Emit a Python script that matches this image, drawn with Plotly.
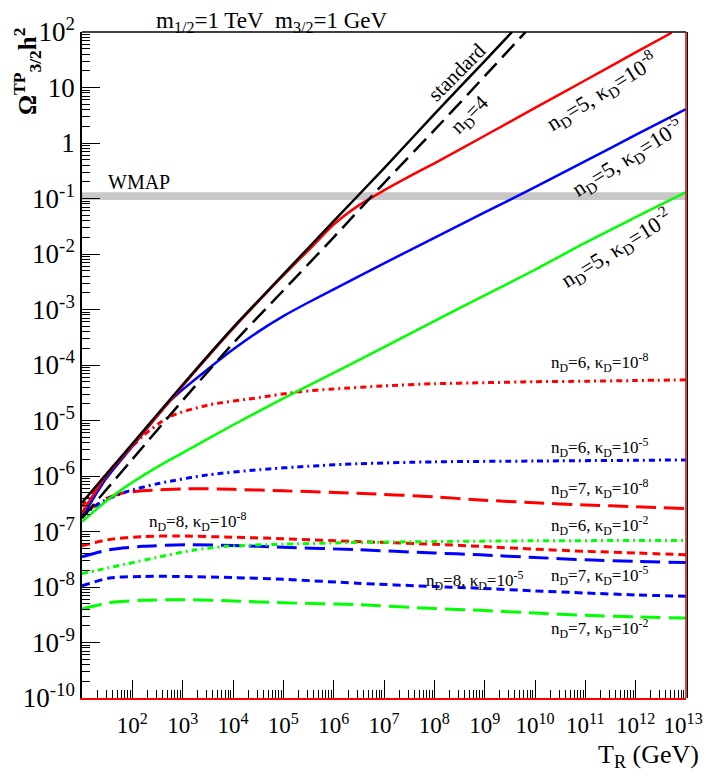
import plotly.graph_objects as go

# ---------------- data ----------------
# standard (black solid)
T_std = [1e1, 1e2, 1e3, 1e4, 1e5, 1e6, 1e7, 1e8, 1e9, 3.5e9]
O_std = [3.3e-7, 3.8e-6, 4.4e-5, 4.7e-4, 4.3e-3, 3.9e-2, 0.35, 3.3, 30, 100]

# n_D=4 (black long dash)
T_n4 = [1e1, 1e2, 1e3, 1e4, 1e5, 1e6, 1e7, 1e8, 1e9, 6.5e9]
O_n4 = [1.74e-7, 2.0e-6, 2.3e-5, 2.45e-4, 2.2e-3, 2.0e-2, 0.19, 1.7, 16, 100]

# n_D=5
T_n5k8 = [1e1, 3e1, 1e2, 1e3, 1e4, 1e5, 4e5, 1e6, 3.2e6, 1e7, 3.2e7, 1e8, 1e9, 1e10,
          1e11, 1e12, 5.2e12]
O_n5k8 = [2.2e-7, 1.0e-6, 3.5e-6, 4.2e-5, 4.5e-4, 4.1e-3, 1.45e-2, 3.4e-2, 7.6e-2, 0.14,
          0.25, 0.43, 1.35, 4.3, 13.5, 43, 97]
T_n5k5 = [1e1, 3e1, 1e2, 5.5e2, 1e3, 3.2e3, 1e4, 3.2e4, 1e5, 3.2e5, 1e6, 1e7, 1e8, 1e9,
          1e10, 1e11, 1e12, 1e13]
O_n5k5 = [1.8e-7, 8.9e-7, 3.4e-6, 2.2e-5, 3.6e-5, 8.5e-5, 1.9e-4, 4.0e-4, 7.6e-4, 1.35e-3,
          2.3e-3, 6.8e-3, 1.95e-2, 5.6e-2, 0.16, 0.47, 1.4, 4.1]
T_n5k2 = [1e1, 3e1, 7.6e1, 5.5e2, 1e3, 1e4, 1e5, 1e6, 1e7, 1e8, 1e9, 1e10, 1e11, 1e12, 1e13]
O_n5k2 = [1.5e-7, 3.5e-7, 6.5e-7, 1.95e-6, 2.6e-6, 8.3e-6, 2.5e-5, 7.2e-5, 2.1e-4, 6.2e-4,
          1.8e-3, 5.2e-3, 1.6e-2, 4.6e-2, 0.13]

# n_D=6 (dash-dot)
T_n6k8 = [1e1, 3e1, 6.6e1, 1.6e2, 5.5e2, 3.2e3, 3.4e4, 2.1e5, 1e6, 1e7, 1e8, 1e9, 1e10,
          1e11, 1e12, 1e13]
O_n6k8 = [2.8e-7, 1.05e-6, 2.3e-6, 5.2e-6, 1.17e-5, 1.9e-5, 2.6e-5, 3.3e-5, 3.7e-5, 4.2e-5,
          4.6e-5, 4.8e-5, 5.0e-5, 5.1e-5, 5.25e-5, 5.4e-5]
T_n6k5 = [1e1, 2.6e1, 7.6e1, 3.5e2, 3.2e3, 3.4e4, 3.2e5, 2.9e6, 1e8, 1e10, 1e13]
O_n6k5 = [1.9e-7, 3.5e-7, 5.2e-7, 7.4e-7, 1.05e-6, 1.3e-6, 1.5e-6, 1.66e-6, 1.8e-6,
          1.86e-6, 1.95e-6]
T_n6k2 = [1e1, 3.2e1, 7.6e1, 3.5e2, 1.6e3, 7.4e3, 1e5, 2.1e6, 1e8, 1e10, 1e13]
O_n6k2 = [1.74e-8, 2.2e-8, 2.6e-8, 3.5e-8, 4.6e-8, 5.4e-8, 5.9e-8, 6.3e-8, 6.6e-8, 6.8e-8,
          6.9e-8]

# n_D=7 (long dash)
T_n7k8 = [1e1, 1.7e1, 3.2e1, 5.6e1, 1.6e2, 1.2e3, 1e4, 1e5, 2.9e6, 1e8, 8.1e8, 1e10, 1e11,
          1e12, 1e13]
O_n7k8 = [2.1e-7, 2.8e-7, 4.0e-7, 4.8e-7, 5.4e-7, 5.9e-7, 5.75e-7, 5.4e-7, 4.9e-7, 4.2e-7,
          3.7e-7, 3.3e-7, 3.0e-7, 2.8e-7, 2.6e-7]
T_n7 = [1e1, 3.5e1, 1.6e2, 1.2e3, 1e4, 1e5, 2.9e6, 1e8, 8.1e8, 1e10, 1e11, 1e12, 1e13]
O_n7k5 = [3.5e-8, 4.7e-8, 5.4e-8, 5.75e-8, 5.6e-8, 5.2e-8, 4.7e-8, 4.1e-8, 3.8e-8, 3.4e-8,
          3.1e-8, 2.9e-8, 2.75e-8]
O_n7k2 = [4.0e-9, 5.2e-9, 5.75e-9, 5.9e-9, 5.6e-9, 5.2e-9, 4.8e-9, 4.1e-9, 3.8e-9, 3.4e-9,
          3.1e-9, 2.9e-9, 2.75e-9]

# n_D=8 (short dash)
T_n8 = [1e1, 3.5e1, 1.6e2, 7.6e2, 1e4, 1e5, 2.9e6, 1e8, 8.1e8, 1e10, 1e11, 1e12, 1e13]
O_n8k8 = [5.5e-8, 7.2e-8, 8.1e-8, 8.3e-8, 7.9e-8, 7.4e-8, 6.6e-8, 5.9e-8, 5.4e-8, 4.8e-8,
          4.4e-8, 4.1e-8, 3.8e-8]
O_n8k5 = [1.05e-8, 1.45e-8, 1.55e-8, 1.55e-8, 1.48e-8, 1.38e-8, 1.17e-8, 1.02e-8, 9.5e-9,
          8.5e-9, 7.8e-9, 7.2e-9, 6.8e-9]

# WMAP band
WMAP_T = [1e1, 1e13]
WMAP_LO = 0.094
WMAP_HI = 0.129

# ticks
x_major = [10.0 ** k for k in range(2, 14)]
x_text = ["10<sup>%d</sup>" % k for k in range(2, 13)] + ["10<sup>13</sup>\u00a0"]
y_major = [10.0 ** k for k in range(-10, 3)]
y_text = ["10<sup>%d</sup>" % k if k not in (0, 1) else ("1" if k == 0 else "10")
          for k in range(-10, 3)]
x_minor = [m * 10.0 ** k for k in range(1, 13) for m in range(2, 10)]
y_minor = [m * 10.0 ** k for k in range(-10, 2) for m in range(2, 10)]

FONT = "Liberation Serif"
RED, BLUE, GREEN, BLACK = "#ff0000", "#0000ff", "#00ff00", "#000000"
DASHDOT = "6px,4px,2px,4px"
LONG = "20px,8px"
SHORT = "8px,5px"

fig = go.Figure()

# WMAP band
fig.add_trace(go.Scatter(x=WMAP_T, y=[WMAP_LO, WMAP_LO], mode="lines",
                         line=dict(width=0, color="#c8c8c8"), showlegend=False,
                         hoverinfo="skip"))
fig.add_trace(go.Scatter(x=WMAP_T, y=[WMAP_HI, WMAP_HI], mode="lines",
                         line=dict(width=0, color="#c8c8c8"), fill="tonexty",
                         fillcolor="#c8c8c8", showlegend=False, hoverinfo="skip"))

curves = [
    (T_n7, O_n7k2, GREEN, 3, LONG),
    (T_n8, O_n8k5, BLUE, 3, SHORT),
    (T_n7, O_n7k5, BLUE, 3, LONG),
    (T_n8, O_n8k8, RED, 3, SHORT),
    (T_n6k2, O_n6k2, GREEN, 3, DASHDOT),
    (T_n7k8, O_n7k8, RED, 3, LONG),
    (T_n6k5, O_n6k5, BLUE, 3, DASHDOT),
    (T_n6k8, O_n6k8, RED, 3, DASHDOT),
    (T_n5k2, O_n5k2, GREEN, 2.5, "solid"),
    (T_n5k5, O_n5k5, BLUE, 2.5, "solid"),
    (T_n5k8, O_n5k8, RED, 2.5, "solid"),
    (T_n4, O_n4, BLACK, 2.5, "18px,8px"),
    (T_std, O_std, BLACK, 2.5, "solid"),
]
for xs, ys, c, w, d in curves:
    fig.add_trace(go.Scatter(x=xs, y=ys, mode="lines",
                             line=dict(color=c, width=w, dash=d, shape="spline",
                                       smoothing=0.7),
                             showlegend=False, hoverinfo="skip"))

# plot area in page pixels (page has an 8px body margin)
L, R, T, B = 82.0, 686.0, 32.0, 698.0


def P(px, py):
    return (px - L) / (R - L), (B - py) / (B - T)


ann = []


def add_text(text, px, py, size, angle=0, xanchor="center", bold=False):
    x, y = P(px, py)
    if bold:
        text = "<b>" + text + "</b>"
    ann.append(dict(text=text, x=x, y=y, xref="paper", yref="paper", showarrow=False,
                    textangle=angle, xanchor=xanchor, yanchor="middle",
                    font=dict(family=FONT, size=size, color="black")))


add_text("m<sub>1/2</sub>=1 TeV\u00a0\u00a0m<sub>3/2</sub>=1 GeV", 272, 22, 23)
add_text("Ω<sup>TP</sup><sub>3/2</sub>h<sup>2</sup>", 27, 72, 25, angle=-90, bold=True)
add_text("T<sub>R</sub> (GeV)", 701, 756, 26, xanchor="right")
add_text("WMAP", 106, 182, 20, xanchor="left")
add_text("standard", 457, 72, 21, angle=-45)
add_text("n<sub>D</sub>=4", 470, 115, 21, angle=-45)
add_text("n<sub>D</sub>=5, κ<sub>D</sub>=10<sup>-8</sup>", 602, 92, 22, angle=-32)
add_text("n<sub>D</sub>=5, κ<sub>D</sub>=10<sup>-5</sup>", 627, 157, 22, angle=-32)
add_text("n<sub>D</sub>=5, κ<sub>D</sub>=10<sup>-2</sup>", 616, 248, 22, angle=-32)
small = [
    ("n<sub>D</sub>=6, κ<sub>D</sub>=10<sup>-8</sup>", 599, 362),
    ("n<sub>D</sub>=6, κ<sub>D</sub>=10<sup>-5</sup>", 599, 447),
    ("n<sub>D</sub>=7, κ<sub>D</sub>=10<sup>-8</sup>", 599, 488),
    ("n<sub>D</sub>=6, κ<sub>D</sub>=10<sup>-2</sup>", 599, 525),
    ("n<sub>D</sub>=7, κ<sub>D</sub>=10<sup>-5</sup>", 599, 575),
    ("n<sub>D</sub>=7, κ<sub>D</sub>=10<sup>-2</sup>", 599, 628),
    ("n<sub>D</sub>=8, κ<sub>D</sub>=10<sup>-8</sup>", 197, 521),
    ("n<sub>D</sub>=8, κ<sub>D</sub>=10<sup>-5</sup>", 474, 580),
]
for t, px, py in small:
    add_text(t, px, py, 17)

shapes = [
    dict(type="line", xref="paper", yref="paper", x0=0, x1=1, y0=1, y1=1,
         line=dict(color="black", width=1.5)),
    dict(type="line", xref="paper", yref="paper", x0=1, x1=1, y0=0, y1=1,
         line=dict(color="#cc0000", width=1.5)),
    dict(type="line", xref="paper", yref="paper", x0=1.0025, x1=1.0025, y0=0, y1=1,
         line=dict(color="black", width=1)),
]

fig.update_layout(
    width=703, height=764,
    margin=dict(l=74, r=25, t=24, b=74, autoexpand=False),
    paper_bgcolor="white", plot_bgcolor="white",
    showlegend=False,
    annotations=ann, shapes=shapes,
    font=dict(family=FONT, color="black"),
    xaxis=dict(type="log", range=[1, 13], showgrid=False, zeroline=False,
               automargin=False,
               showline=True, linecolor="#ff0000", linewidth=1.5, mirror=False,
               ticks="inside", ticklen=18, tickwidth=1, tickcolor="black",
               tickmode="array", tickvals=x_major, ticktext=x_text,
               tickfont=dict(family=FONT, size=23, color="black"),
               ticklabelstandoff=6, ticklabeloverflow="allow",
               minor=dict(ticks="inside", ticklen=8, tickwidth=1, tickcolor="black",
                          tickmode="array", tickvals=x_minor, showgrid=False)),
    yaxis=dict(type="log", range=[-10, 2], showgrid=False, zeroline=False,
               automargin=False,
               showline=True, linecolor="black", linewidth=1.5, mirror=False,
               ticks="inside", ticklen=18, tickwidth=1, tickcolor="black",
               tickmode="array", tickvals=y_major, ticktext=y_text,
               tickfont=dict(family=FONT, size=27, color="black"),
               minor=dict(ticks="inside", ticklen=8, tickwidth=1, tickcolor="black",
                          tickmode="array", tickvals=y_minor, showgrid=False)),
)

fig.write_html("out.html", default_width="703px", default_height="764px")
